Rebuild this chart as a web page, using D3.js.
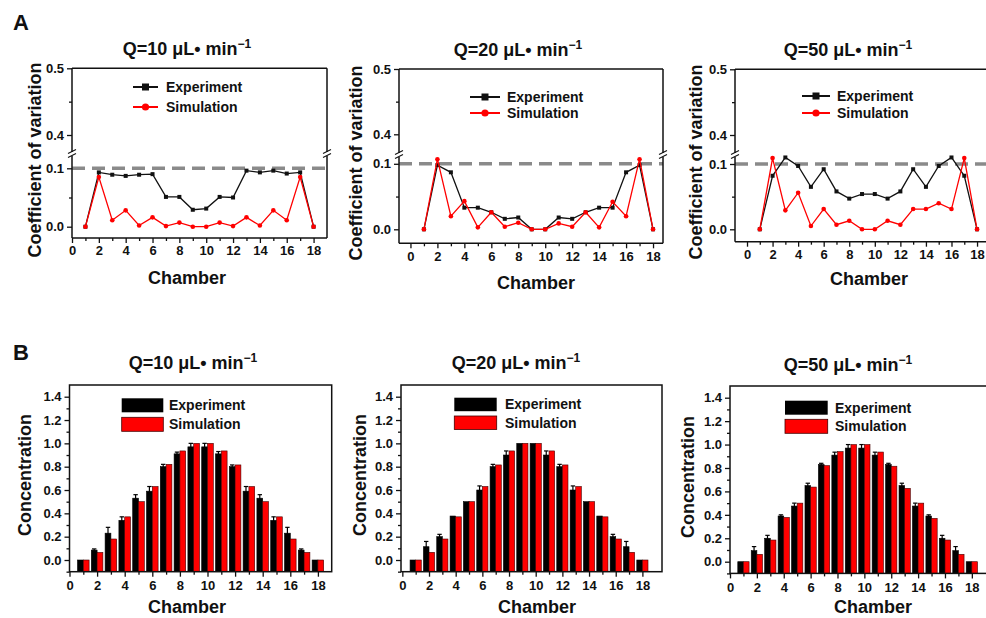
<!DOCTYPE html>
<html>
<head>
<meta charset="utf-8">
<script src="https://cdn.jsdelivr.net/npm/d3@7"></script>
<style>
  html, body { margin: 0; padding: 0; background: #fff; }
  svg { display: block; }
  text { font-family: 'Liberation Sans', Arial, sans-serif; font-weight: bold; fill: #111; }
</style>
</head>
<body>
<svg id="chart" width="986" height="618"></svg>
<script>
// ---------------- DATA ----------------
const chambers = [1,2,3,4,5,6,7,8,9,10,11,12,13,14,15,16,17,18];
const xTicks = [0,2,4,6,8,10,12,14,16,18];
const xMinorTicks = [1,3,5,7,9,11,13,15,17];
const cvTicksLower = [0.0, 0.1];
const cvTicksUpper = [0.4, 0.5];
const cvMinorLower = [0.05];
const cvMinorUpper = [0.45];
const cvThreshold = 0.1;
const concTicks = [0.0, 0.2, 0.4, 0.6, 0.8, 1.0, 1.2, 1.4];
const concMinor = [-0.1, 0.1, 0.3, 0.5, 0.7, 0.9, 1.1, 1.3];
const flowTitles = ["Q=10 μL• min", "Q=20 μL• min", "Q=50 μL• min"];
const seriesNames = ["Experiment", "Simulation"];

// Coefficient of variation (panel A)
const cvExp10 = [0, 0.093, 0.089, 0.087, 0.089, 0.090, 0.051, 0.051, 0.029, 0.031, 0.051, 0.050, 0.096, 0.093, 0.096, 0.091, 0.093, 0];
const cvSim10 = [0, 0.085, 0.011, 0.028, 0.002, 0.016, 0.001, 0.007, 0, 0, 0.007, 0.001, 0.016, 0.002, 0.028, 0.011, 0.085, 0];
const cvExp20 = [0, 0.098, 0.087, 0.033, 0.033, 0.026, 0.016, 0.018, 0, 0, 0.018, 0.016, 0.026, 0.033, 0.033, 0.087, 0.098, 0];
const cvSim20 = [0, 0.107, 0.020, 0.043, 0.003, 0.026, 0.004, 0.010, 0, 0, 0.009, 0.004, 0.026, 0.003, 0.042, 0.020, 0.107, 0];
const cvExp50 = [0, 0.082, 0.110, 0.097, 0.065, 0.092, 0.058, 0.047, 0.054, 0.054, 0.047, 0.058, 0.092, 0.065, 0.097, 0.110, 0.082, 0];
const cvSim50 = [0, 0.109, 0.029, 0.056, 0.005, 0.031, 0.007, 0.013, 0, 0, 0.013, 0.007, 0.031, 0.031, 0.040, 0.031, 0.109, 0];

// Concentration (panel B)
const concExp10 = [0, 0.085, 0.23, 0.34, 0.53, 0.59, 0.80, 0.91, 0.97, 0.97, 0.91, 0.80, 0.59, 0.53, 0.34, 0.23, 0.085, 0];
const concSim10 = [0, 0.065, 0.18, 0.37, 0.50, 0.63, 0.82, 0.935, 1.0, 1.0, 0.935, 0.815, 0.63, 0.50, 0.37, 0.18, 0.065, 0];
const concErr10 = [0, 0.01, 0.05, 0.03, 0.03, 0.04, 0.02, 0.015, 0.03, 0.03, 0.02, 0.015, 0.04, 0.03, 0.03, 0.05, 0.01, 0];
const concExp20 = [0, 0.114, 0.20, 0.377, 0.50, 0.60, 0.80, 0.90, 1.0, 1.0, 0.90, 0.80, 0.60, 0.50, 0.377, 0.20, 0.114, 0];
const concSim20 = [0, 0.066, 0.18, 0.37, 0.50, 0.63, 0.815, 0.935, 1.0, 1.0, 0.935, 0.815, 0.63, 0.50, 0.37, 0.18, 0.066, 0];
const concErr20 = [0, 0.045, 0.02, 0, 0, 0.035, 0.02, 0.035, 0, 0, 0.035, 0.02, 0.035, 0, 0, 0.02, 0.045, 0];
const concExp50 = [0, 0.094, 0.20, 0.39, 0.475, 0.65, 0.83, 0.91, 0.97, 0.97, 0.91, 0.83, 0.65, 0.475, 0.39, 0.20, 0.094, 0];
const concSim50 = [0, 0.063, 0.185, 0.378, 0.50, 0.637, 0.82, 0.94, 1.0, 1.0, 0.936, 0.815, 0.626, 0.50, 0.37, 0.185, 0.063, 0];
const concErr50 = [0, 0.035, 0.025, 0.01, 0.025, 0.02, 0.01, 0.025, 0.03, 0.03, 0.025, 0.01, 0.02, 0.025, 0.01, 0.025, 0.035, 0];

// ---------------- LAYOUT ----------------
const svg = d3.select('#chart');
const RED = '#ff0000';

const aLayout = [
  {left:72, right:327, top:68.3, bottom:238, brk:154, xDom:[0,19], lo:[226.7,168.3], hi:[135,68.3],
   title:[187,55], ylab:[35,160], xlab:[187,277.5], leg:{x1:133,x2:158,y1:87,y2:107,tx:166}},
  {left:399, right:663, top:69, bottom:243.3, brk:155, xDom:[-0.85,18.74], lo:[229.3,163.8], hi:[134.3,69],
   title:[518,56], ylab:[355.5,163], xlab:[536,283], leg:{x1:470,x2:500,y1:97,y2:113,tx:507}},
  {left:735, right:992, top:69.3, bottom:241.7, brk:155, xDom:[-0.94,19.17], lo:[229.3,164], hi:[135,69.3],
   title:[848,56], ylab:[696,162], xlab:[869,278.5], leg:{x1:802,x2:830,y1:96,y2:113,tx:837}}
];
const bLayout = [
  {left:69.5, right:331.7, top:385, bottom:571.7, xDom:[0,19], y0:560, y14:396.7,
   title:[193,369], ylab:[25,475], xlab:[187,606.5], leg:{x1:121.7,x2:163.3,y1:398.3,y2:417.3,h:14,tx:169}},
  {left:401, right:662, top:385, bottom:571.7, xDom:[-0.1,19.47], y0:560, y14:396.7,
   title:[516,369], ylab:[359.5,475], xlab:[537,607], leg:{x1:454.3,x2:496.7,y1:397.7,y2:416,h:13.5,tx:505}},
  {left:730, right:992, top:386, bottom:573.4, xDom:[0,19.5], y0:561.7, y14:397.7,
   title:[848,371], ylab:[687.5,477], xlab:[873,607], leg:{x1:785,x2:827.7,y1:400.7,y2:419.3,h:14,tx:835}}
];

function title(g, pos, txt) {
  const t = g.append('text').attr('x', pos[0]).attr('y', pos[1]).attr('text-anchor', 'middle')
    .style('font-size', '18px');
  t.append('tspan').text(txt);
  t.append('tspan').attr('dy', -7).style('font-size', '12px').text('−1');
}

function styleAxis(sel, fs) {
  sel.select('.domain').remove();
  sel.selectAll('line').attr('stroke', '#111').attr('stroke-width', 1.3);
  sel.selectAll('text').style('font-size', fs + 'px').attr('fill', '#111');
}

// ---------- Panel A ----------
function drawA(L, exp, sim, tIdx) {
  const g = svg.append('g');
  const x = d3.scaleLinear().domain(L.xDom).range([L.left, L.right]);
  const yLo = d3.scaleLinear().domain([cvTicksLower[0], cvTicksLower[1]]).range(L.lo);
  const yHi = d3.scaleLinear().domain([cvTicksUpper[0], cvTicksUpper[1]]).range(L.hi);
  const yv = v => v >= 0.3 ? yHi(v) : yLo(v);

  // dashed threshold
  g.append('line').attr('x1', L.left).attr('x2', L.right)
    .attr('y1', yLo(cvThreshold)).attr('y2', yLo(cvThreshold))
    .attr('stroke', '#8a8a8a').attr('stroke-width', 3.5).attr('stroke-dasharray', '13,7');

  // axes
  const gx = g.append('g').attr('transform', `translate(0,${L.bottom})`)
    .call(d3.axisBottom(x).tickValues(xTicks).tickFormat(d3.format('d')).tickSize(5).tickPadding(3));
  styleAxis(gx, 13);
  const gxm = g.append('g').attr('transform', `translate(0,${L.bottom})`)
    .call(d3.axisBottom(x).tickValues(xMinorTicks).tickFormat('').tickSize(3));
  styleAxis(gxm, 13);
  const fmt = d3.format('.1f');
  const gyl = g.append('g').attr('transform', `translate(${L.left},0)`)
    .call(d3.axisLeft(yLo).tickValues(cvTicksLower).tickFormat(fmt).tickSize(5).tickPadding(3));
  styleAxis(gyl, 13);
  const gyh = g.append('g').attr('transform', `translate(${L.left},0)`)
    .call(d3.axisLeft(yHi).tickValues(cvTicksUpper).tickFormat(fmt).tickSize(5).tickPadding(3));
  styleAxis(gyh, 13);
  const gym = g.append('g').attr('transform', `translate(${L.left},0)`)
    .call(d3.axisLeft(yLo).tickValues(cvMinorLower).tickFormat('').tickSize(3));
  styleAxis(gym, 13);
  const gym2 = g.append('g').attr('transform', `translate(${L.left},0)`)
    .call(d3.axisLeft(yHi).tickValues(cvMinorUpper).tickFormat('').tickSize(3));
  styleAxis(gym2, 13);

  // frame with break
  const fr = g.append('g').attr('stroke', '#111').attr('stroke-width', 1.5).attr('fill', 'none');
  fr.append('line').attr('x1', L.left).attr('x2', L.right).attr('y1', L.top).attr('y2', L.top);
  fr.append('line').attr('x1', L.left).attr('x2', L.right).attr('y1', L.bottom).attr('y2', L.bottom);
  [L.left, L.right].forEach(xx => {
    fr.append('line').attr('x1', xx).attr('x2', xx).attr('y1', L.top).attr('y2', L.brk - 2);
    fr.append('line').attr('x1', xx).attr('x2', xx).attr('y1', L.brk + 2).attr('y2', L.bottom);
    fr.append('line').attr('x1', xx - 4).attr('x2', xx + 4).attr('y1', L.brk - 0.5).attr('y2', L.brk - 4.5).attr('stroke-width', 1.2);
    fr.append('line').attr('x1', xx - 4).attr('x2', xx + 4).attr('y1', L.brk + 3.5).attr('y2', L.brk - 0.5).attr('stroke-width', 1.2);
  });

  // lines
  const line = d3.line().x((d, i) => x(chambers[i])).y(d => yv(d));
  g.append('path').datum(exp).attr('d', line).attr('fill', 'none').attr('stroke', '#111').attr('stroke-width', 1.3);
  g.selectAll('.ms').data(exp).join('rect')
    .attr('x', (d, i) => x(chambers[i]) - 2).attr('y', d => yv(d) - 2)
    .attr('width', 4).attr('height', 4).attr('fill', '#111');
  g.append('path').datum(sim).attr('d', line).attr('fill', 'none').attr('stroke', RED).attr('stroke-width', 1.3);
  g.selectAll('.mc').data(sim).join('circle')
    .attr('cx', (d, i) => x(chambers[i])).attr('cy', d => yv(d)).attr('r', 2.3).attr('fill', RED);

  // legend
  const lg = L.leg;
  g.append('line').attr('x1', lg.x1).attr('x2', lg.x2).attr('y1', lg.y1).attr('y2', lg.y1).attr('stroke', '#111').attr('stroke-width', 2);
  g.append('rect').attr('x', (lg.x1 + lg.x2) / 2 - 3.5).attr('y', lg.y1 - 3.5).attr('width', 7).attr('height', 7).attr('fill', '#111');
  g.append('line').attr('x1', lg.x1).attr('x2', lg.x2).attr('y1', lg.y2).attr('y2', lg.y2).attr('stroke', RED).attr('stroke-width', 2);
  g.append('circle').attr('cx', (lg.x1 + lg.x2) / 2).attr('cy', lg.y2).attr('r', 3.6).attr('fill', RED);
  g.append('text').attr('x', lg.tx).attr('y', lg.y1).attr('dy', '0.36em').style('font-size', '14px').text(seriesNames[0]);
  g.append('text').attr('x', lg.tx).attr('y', lg.y2).attr('dy', '0.36em').style('font-size', '14px').text(seriesNames[1]);

  // labels
  title(g, L.title, flowTitles[tIdx]);
  g.append('text').attr('transform', `translate(${L.ylab[0]},${L.ylab[1]}) rotate(-90)`)
    .attr('text-anchor', 'middle').attr('dy', '0.36em').style('font-size', '18px').text('Coefficient of variation');
  g.append('text').attr('x', L.xlab[0]).attr('y', L.xlab[1]).attr('text-anchor', 'middle').attr('dy', '0.36em')
    .style('font-size', '18px').text('Chamber');
}

// ---------- Panel B ----------
function drawB(L, exp, sim, err, tIdx) {
  const g = svg.append('g');
  const x = d3.scaleLinear().domain(L.xDom).range([L.left, L.right]);
  const y = d3.scaleLinear().domain([concTicks[0], concTicks[7]]).range([L.y0, L.y14]);
  const yMin = y.invert(L.bottom);
  const bw = x(0.42) - x(0);

  // bars
  g.selectAll('.be').data(exp).join('rect')
    .attr('x', (d, i) => x(chambers[i]) - bw).attr('width', bw)
    .attr('y', d => y(d)).attr('height', d => y(yMin) - y(d))
    .attr('fill', '#000').attr('stroke', '#000').attr('stroke-width', 0.6);
  g.selectAll('.bs').data(sim).join('rect')
    .attr('x', (d, i) => x(chambers[i])).attr('width', bw)
    .attr('y', d => y(d)).attr('height', d => y(yMin) - y(d))
    .attr('fill', RED).attr('stroke', '#400').attr('stroke-width', 0.6);
  // error bars
  const eg = g.append('g').attr('stroke', '#000').attr('stroke-width', 1.2);
  exp.forEach((d, i) => {
    if (err[i] <= 0) return;
    const cx = x(chambers[i]) - bw / 2;
    eg.append('line').attr('x1', cx).attr('x2', cx).attr('y1', y(d - err[i])).attr('y2', y(d + err[i]));
    eg.append('line').attr('x1', cx - 2.2).attr('x2', cx + 2.2).attr('y1', y(d + err[i])).attr('y2', y(d + err[i]));
  });

  // axes
  const gx = g.append('g').attr('transform', `translate(0,${L.bottom})`)
    .call(d3.axisBottom(x).tickValues(xTicks).tickFormat(d3.format('d')).tickSize(5).tickPadding(4));
  styleAxis(gx, 13);
  const gxm = g.append('g').attr('transform', `translate(0,${L.bottom})`)
    .call(d3.axisBottom(x).tickValues(xMinorTicks).tickFormat('').tickSize(3));
  styleAxis(gxm, 13);
  const gy = g.append('g').attr('transform', `translate(${L.left},0)`)
    .call(d3.axisLeft(y).tickValues(concTicks).tickFormat(d3.format('.1f')).tickSize(5).tickPadding(3));
  styleAxis(gy, 13);
  const gym = g.append('g').attr('transform', `translate(${L.left},0)`)
    .call(d3.axisLeft(y).tickValues(concMinor).tickFormat('').tickSize(3));
  styleAxis(gym, 13);

  g.append('rect').attr('x', L.left).attr('y', L.top).attr('width', L.right - L.left).attr('height', L.bottom - L.top)
    .attr('fill', 'none').attr('stroke', '#111').attr('stroke-width', 1.5);

  // legend
  const lg = L.leg;
  g.append('rect').attr('x', lg.x1).attr('y', lg.y1).attr('width', lg.x2 - lg.x1).attr('height', lg.h).attr('fill', '#000');
  g.append('rect').attr('x', lg.x1).attr('y', lg.y2).attr('width', lg.x2 - lg.x1).attr('height', lg.h)
    .attr('fill', RED).attr('stroke', '#400').attr('stroke-width', 0.8);
  g.append('text').attr('x', lg.tx).attr('y', lg.y1 + lg.h / 2).attr('dy', '0.36em').style('font-size', '14px').text(seriesNames[0]);
  g.append('text').attr('x', lg.tx).attr('y', lg.y2 + lg.h / 2).attr('dy', '0.36em').style('font-size', '14px').text(seriesNames[1]);

  title(g, L.title, flowTitles[tIdx]);
  g.append('text').attr('transform', `translate(${L.ylab[0]},${L.ylab[1]}) rotate(-90)`)
    .attr('text-anchor', 'middle').attr('dy', '0.36em').style('font-size', '18px').text('Concentration');
  g.append('text').attr('x', L.xlab[0]).attr('y', L.xlab[1]).attr('text-anchor', 'middle').attr('dy', '0.36em')
    .style('font-size', '18px').text('Chamber');
}

drawA(aLayout[0], cvExp10, cvSim10, 0);
drawA(aLayout[1], cvExp20, cvSim20, 1);
drawA(aLayout[2], cvExp50, cvSim50, 2);
drawB(bLayout[0], concExp10, concSim10, concErr10, 0);
drawB(bLayout[1], concExp20, concSim20, concErr20, 1);
drawB(bLayout[2], concExp50, concSim50, concErr50, 2);

svg.append('text').attr('x', 13).attr('y', 30).style('font-size', '22px').text('A');
svg.append('text').attr('x', 13).attr('y', 360).style('font-size', '22px').text('B');
</script>
</body>
</html>
